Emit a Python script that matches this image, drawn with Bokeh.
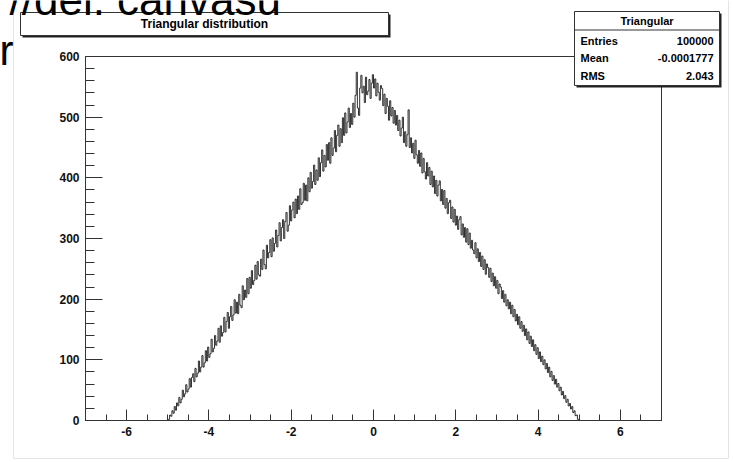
from bokeh.plotting import figure
from bokeh.models import Label, BoxAnnotation, FixedTicker, LinearAxis
from bokeh.embed import file_html
from bokeh.resources import INLINE

# Histogram binning: 500 bins over [-7, 7]
x_lo, x_hi, n_bins = -7.0, 7.0, 500
y_lo, y_hi = 0, 600
first_bin = 71  # index of the first non-empty bin

# Bin contents, rising edge (x from -5 to 0)
counts_left = [
    0, 2, 9, 7, 16, 12, 23, 17, 29, 24,
    38, 29, 35, 50, 39, 44, 59, 47, 52, 69,
    55, 71, 77, 64, 86, 72, 78, 98, 80, 88,
    107, 88, 95, 115, 98, 121, 104, 110, 134, 113,
    119, 140, 124, 131, 152, 129, 156, 139, 145, 170,
    146, 163, 178, 152, 171, 188, 165, 174, 199, 177,
    195, 176, 208, 190, 186, 222, 199, 215, 203, 234,
    209, 236, 218, 247, 224, 231, 256, 233, 262, 240,
    238, 266, 249, 281, 257, 250, 289, 268, 277, 298,
    270, 301, 279, 292, 314, 286, 305, 326, 296, 318,
    331, 300, 328, 343, 312, 322, 354, 329, 347, 360,
    334, 365, 341, 370, 348, 382, 356, 359, 391, 363,
    388, 362, 400, 377, 409, 383, 394, 421, 389, 413,
    396, 433, 402, 425, 446, 411, 437, 418, 455, 429,
    458, 424, 466, 437, 449, 478, 443, 470, 487, 452,
    481, 458, 499, 470, 507, 474, 492, 515, 483, 506,
    488, 523, 500, 536, 574, 515, 503, 548, 569, 540,
    551, 524, 566, 537, 543, 562, 531, 556, 570,
]

# Bin contents, falling edge (x from 0 to 5)
counts_right = [
    548, 563, 535, 556, 541, 528, 552, 547, 519, 538,
    506, 531, 518, 495, 527, 502, 516, 490, 511, 487,
    503, 478, 495, 469, 482, 500, 458, 476, 452, 471,
    512, 450, 466, 441, 457, 432, 462, 438, 424, 445,
    419, 441, 408, 432, 410, 398, 425, 403, 417, 389,
    411, 385, 403, 374, 396, 370, 388, 395, 362, 381,
    356, 379, 350, 366, 341, 359, 363, 333, 352, 327,
    348, 322, 337, 315, 331, 336, 306, 324, 302, 318,
    294, 316, 290, 309, 284, 297, 281, 275, 293, 268,
    283, 262, 277, 254, 271, 249, 265, 241, 258, 252,
    236, 251, 229, 243, 222, 237, 218, 231, 209, 225,
    220, 201, 214, 195, 208, 189, 199, 184, 195, 176,
    190, 171, 183, 164, 175, 158, 171, 152, 163, 147,
    157, 140, 151, 133, 146, 127, 139, 122, 133, 115,
    125, 109, 120, 102, 113, 97, 106, 92, 100, 85,
    94, 79, 88, 72, 81, 66, 74, 60, 68, 55,
    61, 49, 55, 42, 48, 36, 41, 30, 35, 24,
    28, 19, 23, 13, 16, 8, 9, 2, 1,
]

x_ticks = [-6, -4, -2, 0, 2, 4, 6]
x_minor = [-7 + 0.5 * i for i in range(29)]
y_ticks = [0, 100, 200, 300, 400, 500, 600]
y_minor = [20 * i for i in range(31)]

title_text = "Triangular distribution"
stats_name = "Triangular"
stats_labels = ["Entries", "Mean", "RMS"]
stats_values = ["100000", "-0.0001777", "2.043"]

# Canvas geometry in pixels: the histogram pad occupies [PL, PR] x [PT, PB]
W, H = 733, 462
PL, PR, PT, PB = 85, 661, 56, 420
FONT = "Liberation Sans"

counts = [0] * first_bin + counts_left + counts_right
counts = counts + [0] * (n_bins - len(counts))
bw = (x_hi - x_lo) / n_bins
edges = [x_lo + bw * i for i in range(n_bins + 1)]

# The plotting frame spans the whole canvas; the data ranges are extended so
# that the histogram pad lands at its pixel box and the surrounding
# decorations can be drawn in the free margin.
kx = (PR - PL) / (x_hi - x_lo)
ky = (PB - PT) / (y_hi - y_lo)
x_range = (x_lo - PL / kx, x_hi + (W - PR) / kx)
y_range = (y_lo - (H - PB) / ky, y_hi + PT / ky)

p = figure(width=W, height=H, x_range=x_range, y_range=y_range,
           output_backend="svg", toolbar_location=None, title=None,
           x_axis_location=None, y_axis_location=None,
           min_border=0)
p.grid.visible = False
p.background_fill_color = "white"
p.border_fill_color = "white"
p.outline_line_color = None


def sx(cx):
    return cx


def sy(cy):
    return H - cy


def box(l, t, r, b, fill, line=None, lw=1):
    p.add_layout(BoxAnnotation(
        left=sx(l), right=sx(r), top=sy(t), bottom=sy(b),
        left_units="screen", right_units="screen",
        top_units="screen", bottom_units="screen",
        fill_color=fill, fill_alpha=1 if fill else 0,
        line_color=line if line else "black", line_alpha=1 if line else 0,
        line_width=lw, level="underlay" if fill is None else "annotation"))


def text(cx, cy, s, size, align="left", bold=True, baseline="middle", font=FONT, color="black"):
    p.add_layout(Label(
        x=sx(cx), y=sy(cy), x_units="screen", y_units="screen", text=s,
        text_font=font, text_font_size=f"{size}px",
        text_font_style="bold" if bold else "normal",
        text_align=align, text_baseline=baseline, text_color=color))


# faint edge of the canvas area
box(13, -10, 728, 458, None, "#e4e4e4")

# pad frame
p.quad(left=x_lo, right=x_hi, bottom=y_lo, top=y_hi,
       fill_color=None, line_color="#333333", line_width=1)

# histogram outline
p.step(x=edges, y=counts + [0], mode="after", line_color="#1a1a1a", line_width=0.9)

AX = "#333333"
xa = LinearAxis(fixed_location=y_lo, bounds=(x_lo, x_hi),
                ticker=FixedTicker(ticks=x_ticks, minor_ticks=x_minor),
                major_label_overrides={t: str(t) for t in x_ticks})
ya = LinearAxis(fixed_location=x_lo, bounds=(y_lo, y_hi),
                ticker=FixedTicker(ticks=y_ticks, minor_ticks=y_minor),
                major_label_overrides={t: str(t) for t in y_ticks})
p.add_layout(xa, "below")
p.add_layout(ya, "left")
for ax, tmaj, tmin in ((xa, 11, 6), (ya, 17, 9)):
    ax.axis_line_color = AX
    ax.major_tick_line_color = AX
    ax.minor_tick_line_color = AX
    ax.major_tick_in = tmaj
    ax.major_tick_out = 0
    ax.minor_tick_in = tmin
    ax.minor_tick_out = 0
    ax.major_label_text_font = FONT
    ax.major_label_text_font_style = "bold"
    ax.major_label_text_font_size = "12px"
    ax.major_label_text_color = "#111111"
    ax.major_label_standoff = 6

# title pave with shadow
box(22, 14, 390, 37, "#222222")
box(20, 12, 388, 35, "white", "#333333")
text(204, 23.5, title_text, 12, align="center")

# statistics box with shadow
box(576, 13, 721, 87, "#222222")
box(574, 11, 719, 85, "white", "#333333")
box(574, 29, 719, 30, "#333333")
text(646.5, 20, stats_name, 11, align="center")
for i, (lab, val) in enumerate(zip(stats_labels, stats_values)):
    yy = 40 + 17.5 * i
    text(580, yy, lab, 11)
    text(713, yy, val, 11, align="right")

# surrounding page text
text(9, -1, "//del. canvasu", 44, bold=False, baseline="alphabetic")
text(-1, 50, "r", 42, bold=False, baseline="alphabetic")

open("out.html", "w").write(file_html(p, INLINE))
